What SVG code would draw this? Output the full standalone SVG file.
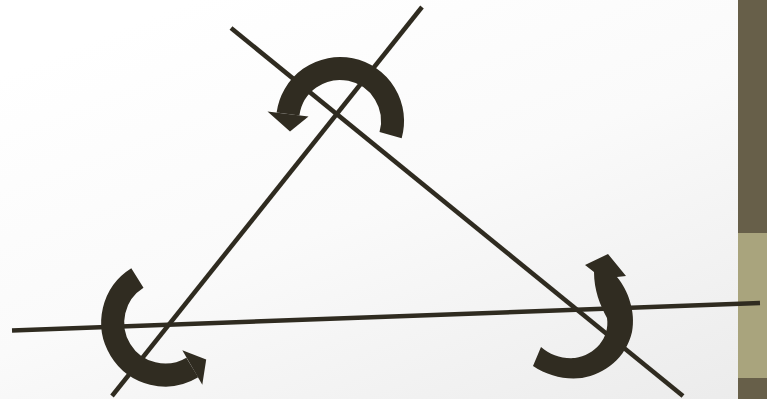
<svg xmlns="http://www.w3.org/2000/svg" width="767" height="399" viewBox="0 0 767 399">
<defs>
<linearGradient id="bg" x1="0.25" y1="0" x2="1" y2="1">
<stop offset="0" stop-color="#FFFFFF"/>
<stop offset="0.45" stop-color="#FAFAFA"/>
<stop offset="1" stop-color="#EBEBEB"/>
</linearGradient>
<style>
.ln{stroke:#2F2B20;stroke-width:4.5;fill:none;stroke-linecap:butt}
.arc{stroke:#302C21;stroke-width:23;fill:none;stroke-linecap:butt}
.hd{fill:#302C21}
</style>
</defs>
<rect x="0" y="0" width="767" height="399" fill="url(#bg)"/>
<rect x="738" y="0" width="29" height="233" fill="#675F49"/>
<rect x="738" y="233" width="29" height="145" fill="#A9A47D"/>
<rect x="738" y="378" width="29" height="21" fill="#675F49"/>
<g id="connectors">
<line class="ln" x1="231" y1="28" x2="683" y2="396"/>
<line class="ln" x1="422" y1="7" x2="112" y2="396"/>
<line class="ln" x1="12" y1="330.5" x2="760" y2="303"/>
</g>
<g id="arrow-top">
<path class="arc" d="M390.6,135.1 A52.5,52.5 0 1 0 288,114"/>
<polygon class="hd" points="267.5,111.5 308.5,116.5 290,131.5"/>
</g>
<g id="arrow-left">
<path class="arc" d="M137.4,278 A52.5,52.5 0 0 0 192.3,367.5"/>
<polygon class="hd" points="182.3,350.2 202.3,384.8 206.2,359.5"/>
</g>
<g id="arrow-right">
<path class="hd" d="M533,366 C548,376 565,380 582,378 C605,374 626,358 632,332 C636,312 628,290 617,277 L626,276 L608,254 L585,265 L594,272 C594,290 600,305 607,318 C610,338 595,355 575,358 C562,359 550,355 541,347 Z"/>
</g>
</svg>
